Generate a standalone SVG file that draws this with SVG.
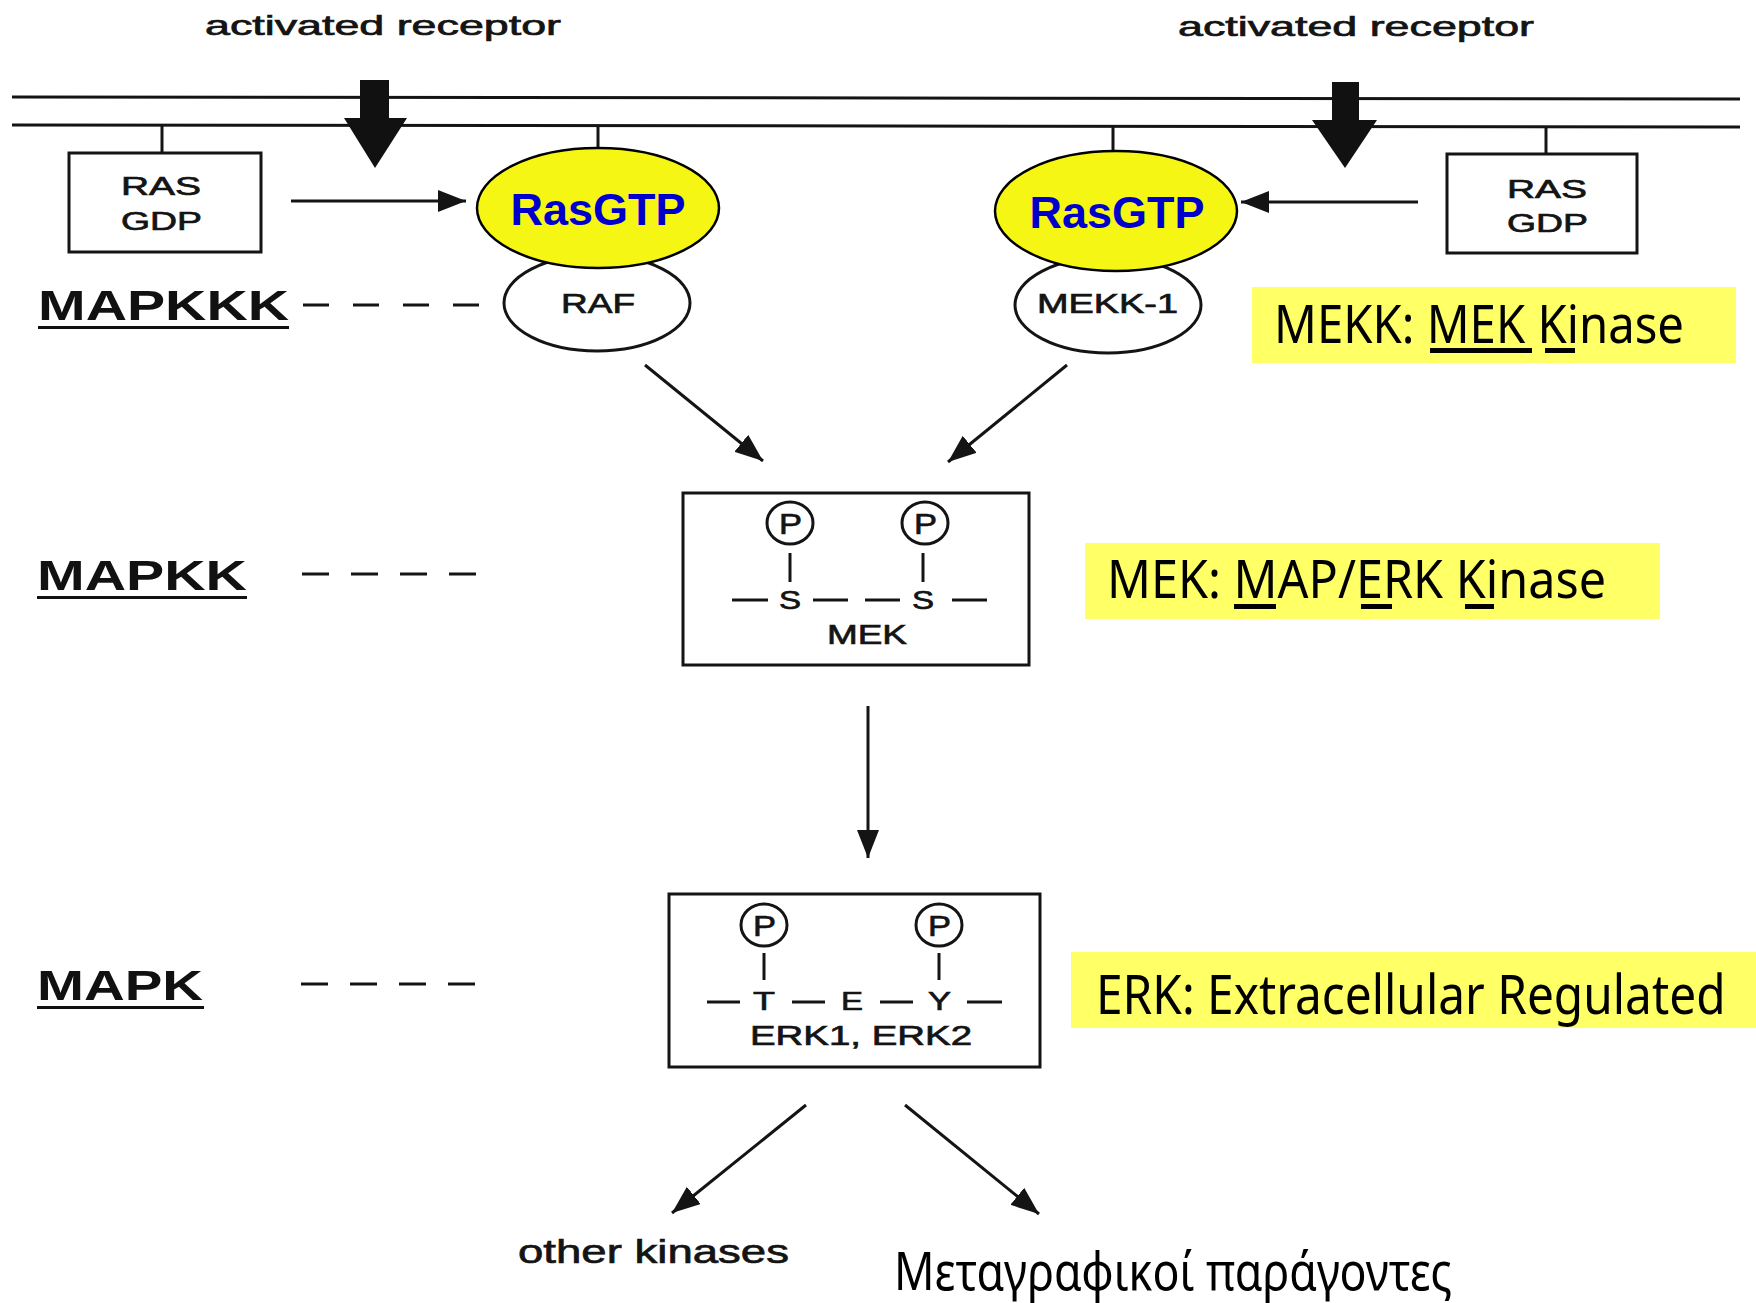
<svg xmlns="http://www.w3.org/2000/svg" width="1756" height="1303" viewBox="0 0 1756 1303">
<defs>
<style>
.scan{font-family:"Liberation Sans",Arial,sans-serif;fill:#141414;stroke:#141414;stroke-width:0.7}
.lbl{font-family:"Liberation Sans",Arial,sans-serif;font-weight:bold;fill:#111}
.ras{font-family:"Liberation Sans",Arial,sans-serif;font-weight:bold;font-size:45px;fill:#0000CC;text-anchor:middle}
.note{font-family:"Noto Sans","Open Sans",sans-serif;fill:#000}
.ln{stroke:#141414;stroke-width:3;fill:none}
.box{stroke:#141414;stroke-width:3;fill:#fff}
.dash{stroke:#141414;stroke-width:3;fill:none}
.ybox{fill:#FFFF66}
.ul{fill:#000}
.yel{fill:#F6F614;stroke:#000;stroke-width:2.5}
.conn{stroke:#141414;stroke-width:3;fill:none;marker-end:url(#ah)}
</style>
<marker id="ah" markerUnits="userSpaceOnUse" markerWidth="30" markerHeight="24" refX="28" refY="11" orient="auto">
<path d="M0,0 L28,11 L0,22 Z" fill="#141414"/>
</marker>
</defs>
<rect width="1756" height="1303" fill="#fff"/>

<g id="membrane">
<line class="ln" x1="12" y1="97" x2="1740" y2="99"/>
<line class="ln" x1="12" y1="125" x2="1740" y2="127"/>
</g>

<g id="receptor-left">
<text class="scan" x="205" y="35" font-size="28" textLength="356" lengthAdjust="spacingAndGlyphs">activated receptor</text>
<polygon points="360,80 389,80 389,118 407,118 375,168 344,118 360,118" fill="#111"/>
</g>
<g id="receptor-right">
<text class="scan" x="1178" y="36" font-size="28" textLength="356" lengthAdjust="spacingAndGlyphs">activated receptor</text>
<polygon points="1332,82 1359,82 1359,120 1377,120 1345,168 1312,120 1332,120" fill="#111"/>
</g>

<g id="rasgdp-left">
<line class="ln" x1="162" y1="125" x2="162" y2="153"/>
<rect class="box" x="69" y="153" width="192" height="99"/>
<text class="scan" x="121" y="195" font-size="26" textLength="80" lengthAdjust="spacingAndGlyphs">RAS</text>
<text class="scan" x="121" y="230" font-size="26" textLength="81" lengthAdjust="spacingAndGlyphs">GDP</text>
</g>
<g id="rasgdp-right">
<line class="ln" x1="1546" y1="127" x2="1546" y2="154"/>
<rect class="box" x="1447" y="154" width="190" height="99"/>
<text class="scan" x="1507" y="198" font-size="26" textLength="80" lengthAdjust="spacingAndGlyphs">RAS</text>
<text class="scan" x="1507" y="232" font-size="26" textLength="81" lengthAdjust="spacingAndGlyphs">GDP</text>
</g>

<g id="raf">
<ellipse class="box" cx="597" cy="303" rx="93" ry="48"/>
<text class="scan" x="561" y="313" font-size="27" textLength="74" lengthAdjust="spacingAndGlyphs">RAF</text>
</g>
<g id="rasgtp-left">
<line class="ln" x1="598" y1="125" x2="598" y2="148"/>
<ellipse class="yel" cx="598" cy="208" rx="121" ry="60"/>
<text class="ras" x="598" y="225">RasGTP</text>
</g>

<g id="mekk1">
<ellipse class="box" cx="1108" cy="305" rx="93" ry="48"/>
<text class="scan" x="1037" y="313" font-size="27" textLength="141" lengthAdjust="spacingAndGlyphs">MEKK-1</text>
</g>
<g id="rasgtp-right">
<line class="ln" x1="1113" y1="127" x2="1113" y2="151"/>
<ellipse class="yel" cx="1116" cy="211" rx="121" ry="60"/>
<text class="ras" x="1117" y="228">RasGTP</text>
</g>

<g id="label-mapkkk">
<text class="lbl" x="38" y="320" font-size="43" textLength="251" lengthAdjust="spacingAndGlyphs">MAPKKK</text>
<rect x="38" y="326" width="251" height="3" fill="#111"/>
<line class="dash" x1="303" y1="305" x2="479" y2="305" stroke-dasharray="26 24"/>
</g>
<g id="label-mapkk">
<text class="lbl" x="37" y="590" font-size="43" textLength="210" lengthAdjust="spacingAndGlyphs">MAPKK</text>
<rect x="37" y="596" width="210" height="3" fill="#111"/>
<line class="dash" x1="302" y1="574" x2="477" y2="574" stroke-dasharray="27 22"/>
</g>
<g id="label-mapk">
<text class="lbl" x="37" y="1000" font-size="43" textLength="166" lengthAdjust="spacingAndGlyphs">MAPK</text>
<rect x="37" y="1006" width="167" height="3" fill="#111"/>
<line class="dash" x1="301" y1="984" x2="477" y2="984" stroke-dasharray="27 22"/>
</g>

<g id="mek">
<rect class="box" x="683" y="493" width="346" height="172"/>
<ellipse class="ln" cx="790" cy="523" rx="23" ry="21" stroke-width="2.5"/>
<ellipse class="ln" cx="925" cy="523" rx="23" ry="21" stroke-width="2.5"/>
<text class="scan" x="779" y="534" font-size="29" textLength="23" lengthAdjust="spacingAndGlyphs">P</text>
<text class="scan" x="914" y="534" font-size="29" textLength="23" lengthAdjust="spacingAndGlyphs">P</text>
<line class="ln" x1="790" y1="553" x2="790" y2="582"/>
<line class="ln" x1="923" y1="553" x2="923" y2="582"/>
<text class="scan" x="779" y="609" font-size="25" textLength="22" lengthAdjust="spacingAndGlyphs">S</text>
<text class="scan" x="912" y="609" font-size="25" textLength="22" lengthAdjust="spacingAndGlyphs">S</text>
<g class="dash" stroke-width="3.5">
<line x1="732" y1="600" x2="768" y2="600"/>
<line x1="813" y1="600" x2="848" y2="600"/>
<line x1="865" y1="600" x2="900" y2="600"/>
<line x1="952" y1="600" x2="987" y2="600"/>
</g>
<text class="scan" x="827" y="644" font-size="28" textLength="80" lengthAdjust="spacingAndGlyphs">MEK</text>
</g>

<g id="erk">
<rect class="box" x="669" y="894" width="371" height="173"/>
<ellipse class="ln" cx="764" cy="925" rx="23" ry="21" stroke-width="2.5"/>
<ellipse class="ln" cx="939" cy="925" rx="23" ry="21" stroke-width="2.5"/>
<text class="scan" x="753" y="936" font-size="29" textLength="23" lengthAdjust="spacingAndGlyphs">P</text>
<text class="scan" x="928" y="936" font-size="29" textLength="23" lengthAdjust="spacingAndGlyphs">P</text>
<line class="ln" x1="764" y1="953" x2="764" y2="980"/>
<line class="ln" x1="939" y1="953" x2="939" y2="980"/>
<text class="scan" x="753" y="1010" font-size="26" textLength="22" lengthAdjust="spacingAndGlyphs">T</text>
<text class="scan" x="841" y="1010" font-size="26" textLength="22" lengthAdjust="spacingAndGlyphs">E</text>
<text class="scan" x="928" y="1010" font-size="26" textLength="23" lengthAdjust="spacingAndGlyphs">Y</text>
<g class="dash" stroke-width="3.5">
<line x1="707" y1="1002" x2="740" y2="1002"/>
<line x1="792" y1="1002" x2="825" y2="1002"/>
<line x1="880" y1="1002" x2="913" y2="1002"/>
<line x1="967" y1="1002" x2="1002" y2="1002"/>
</g>
<text class="scan" x="750" y="1045" font-size="28" textLength="222" lengthAdjust="spacingAndGlyphs">ERK1, ERK2</text>
</g>

<g id="note-mekk">
<rect class="ybox" x="1252" y="287" width="484" height="76"/>
<text class="note" x="1274" y="343" font-size="52" textLength="410" lengthAdjust="spacingAndGlyphs">MEKK: MEK Kinase</text>
<rect class="ul" x="1430" y="348" width="102" height="5"/>
<rect class="ul" x="1545" y="348" width="30" height="5"/>
</g>
<g id="note-mek">
<rect class="ybox" x="1085" y="543" width="575" height="76"/>
<text class="note" x="1107" y="598" font-size="52" textLength="499" lengthAdjust="spacingAndGlyphs">MEK: MAP/ERK Kinase</text>
<rect class="ul" x="1234" y="604" width="42" height="5"/>
<rect class="ul" x="1361" y="604" width="31" height="5"/>
<rect class="ul" x="1465" y="604" width="29" height="5"/>
</g>
<g id="note-erk">
<rect class="ybox" x="1071" y="952" width="685" height="76"/>
<text class="note" transform="translate(1096,1014) scale(0.86,1)" x="0" y="0" font-size="55" textLength="732" lengthAdjust="spacingAndGlyphs">ERK: Extracellular Regulated</text>
</g>

<g id="targets">
<text class="scan" x="518" y="1263" font-size="34" textLength="271" lengthAdjust="spacingAndGlyphs">other kinases</text>
<text class="note" x="894" y="1290" font-size="53" textLength="558" lengthAdjust="spacingAndGlyphs">Μεταγραφικοί παράγοντες</text>
</g>

<g id="connectors">
<line class="conn" x1="291" y1="201" x2="466" y2="201"/>
<line class="conn" x1="1418" y1="202" x2="1241" y2="202"/>
<line class="conn" x1="645" y1="365" x2="763" y2="461"/>
<line class="conn" x1="1067" y1="365" x2="948" y2="462"/>
<line class="conn" x1="868" y1="706" x2="868" y2="858"/>
<line class="conn" x1="806" y1="1105" x2="672" y2="1213"/>
<line class="conn" x1="905" y1="1105" x2="1039" y2="1214"/>
</g>
</svg>
